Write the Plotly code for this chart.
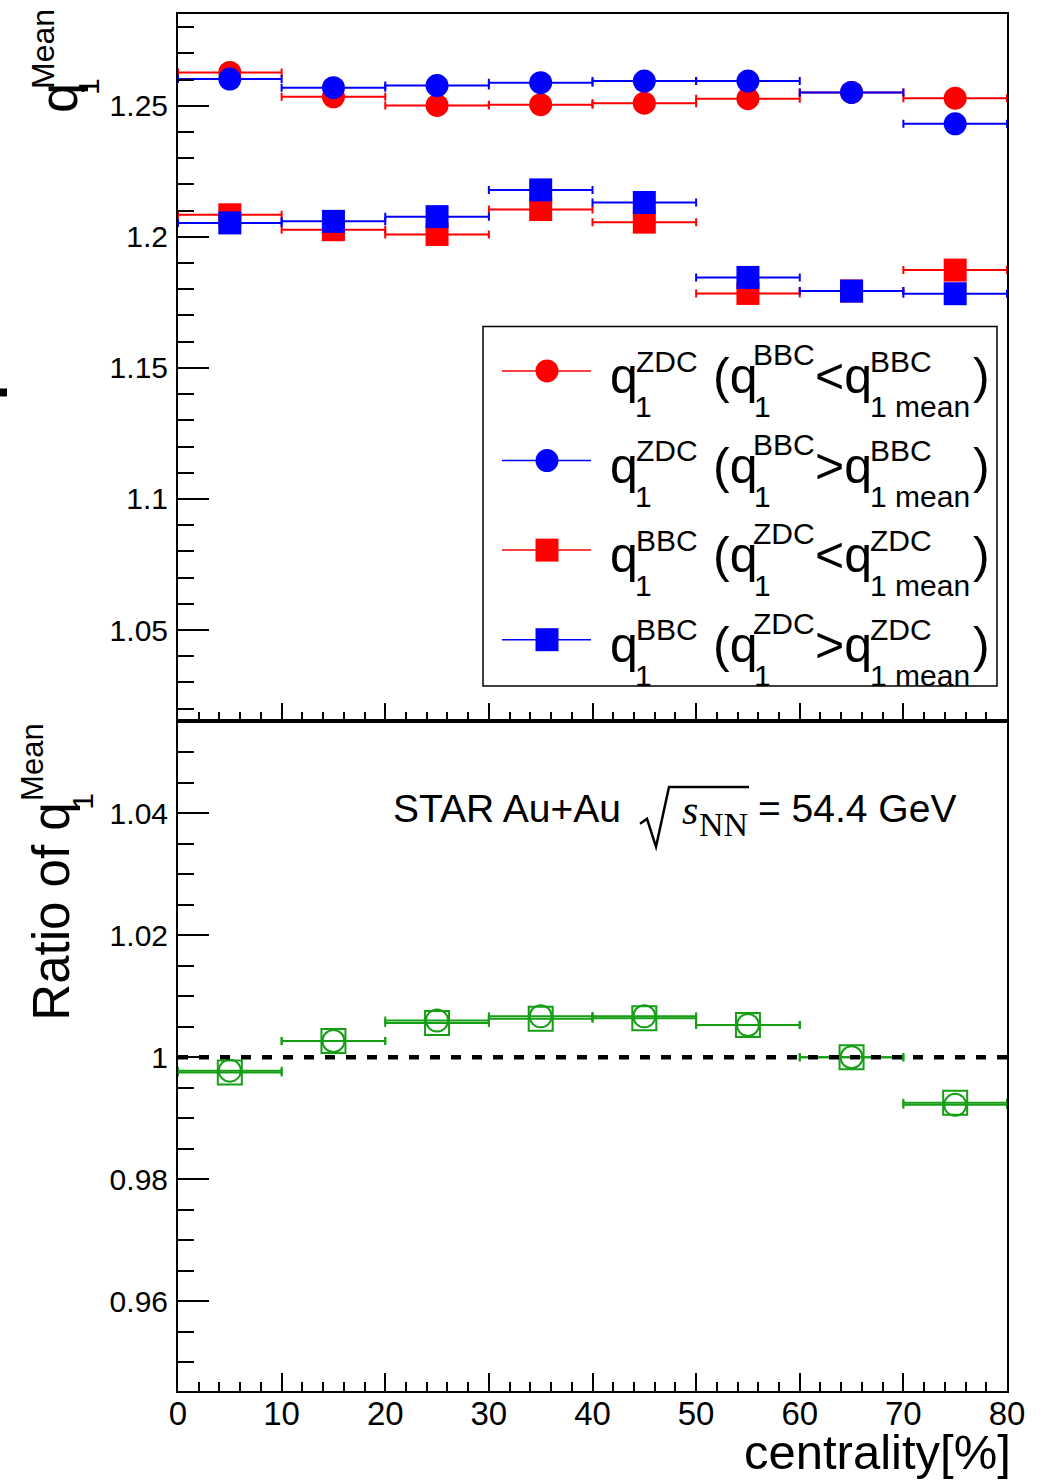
import plotly.graph_objects as go

# ---------------- data ----------------
centrality = [5, 15, 25, 35, 45, 55, 65, 75]
bin_half_width = [5, 5, 5, 5, 5, 5, 5, 5]

q1zdc_bbc_low = [1.2627, 1.2534, 1.2501, 1.2504, 1.2510, 1.2527, 1.2551, 1.2529]
q1zdc_bbc_high = [1.2602, 1.2569, 1.2577, 1.2588, 1.2594, 1.2594, 1.2551, 1.2431]
q1bbc_zdc_low = [1.2084, 1.2027, 1.2009, 1.2104, 1.2056, 1.1784, 1.1793, 1.1873]
q1bbc_zdc_high = [1.2053, 1.2059, 1.2077, 1.2179, 1.2131, 1.1845, 1.1793, 1.1783]

ratio_zdc = [0.9978, 1.00265, 1.0060, 1.0067, 1.0067, 1.00527, 1.0000, 0.99219]
ratio_bbc = [0.9975, 1.00265, 1.0056, 1.0063, 1.0064, 1.00527, 1.0000, 0.99252]

unity_x = [0, 80]
unity_y = [1, 1]

top_tickvals = [1.05, 1.1, 1.15, 1.2, 1.25]
top_ticktext = ["1.05", "1.1", "1.15", "1.2", "1.25"]
bot_tickvals = [0.96, 0.98, 1.0, 1.02, 1.04]
bot_ticktext = ["0.96", "0.98", "1", "1.02", "1.04"]
x_tickvals = [0, 10, 20, 30, 40, 50, 60, 70, 80]
x_ticktext = ["0", "10", "20", "30", "40", "50", "60", "70", "80"]

legend_rows = [
    # (colour, symbol, sup1, sup2, relation, sup3)
    ("red", "circle", "ZDC", "BBC", "<", "BBC"),
    ("blue", "circle", "ZDC", "BBC", ">", "BBC"),
    ("red", "square", "BBC", "ZDC", "<", "ZDC"),
    ("blue", "square", "BBC", "ZDC", ">", "ZDC"),
]

# ---------------- geometry helpers (pixel -> paper) ----------------
W, H = 1040, 1480
L, R, T, B = 178, 1007, 12, 1391
PW, PH = R - L, B - T
MID = 720
split = (B - MID) / PH

def px(x):
    return (x - L) / PW

def py(y):
    return (B - y) / PH

SANS = "Liberation Sans, Arial, Helvetica, sans-serif"
SERIF = "Liberation Serif, Times New Roman, serif"
RED = "#ff0000"
BLUE = "#0000ff"
GREEN = "#149f14"
COL = {"red": RED, "blue": BLUE}

fig = go.Figure()

def err(arr):
    return dict(type="data", array=arr, symmetric=True, thickness=2, width=4)

# top panel
for yv, col, sym in [(q1zdc_bbc_low, RED, "circle"), (q1zdc_bbc_high, BLUE, "circle"),
                     (q1bbc_zdc_low, RED, "square"), (q1bbc_zdc_high, BLUE, "square")]:
    fig.add_trace(go.Scatter(
        x=centrality, y=yv, mode="markers", xaxis="x", yaxis="y",
        marker=dict(symbol=sym, size=23, color=col, line=dict(width=0)),
        error_x=dict(err(bin_half_width), color=col),
        showlegend=False, hoverinfo="skip"))

# bottom panel
fig.add_trace(go.Scatter(
    x=centrality, y=ratio_bbc, mode="markers", xaxis="x2", yaxis="y2",
    marker=dict(symbol="square-open", size=24, color=GREEN, line=dict(width=2, color=GREEN)),
    error_x=dict(err(bin_half_width), color=GREEN), showlegend=False, hoverinfo="skip"))
fig.add_trace(go.Scatter(
    x=centrality, y=ratio_zdc, mode="markers", xaxis="x2", yaxis="y2",
    marker=dict(symbol="circle-open", size=22, color=GREEN, line=dict(width=2, color=GREEN)),
    error_x=dict(err(bin_half_width), color=GREEN), showlegend=False, hoverinfo="skip"))
fig.add_trace(go.Scatter(
    x=unity_x, y=unity_y, mode="lines", xaxis="x2", yaxis="y2",
    line=dict(color="black", width=4.5, dash="10px,11px"), showlegend=False, hoverinfo="skip"))

axis_common = dict(showline=True, linewidth=2, linecolor="black", mirror=True,
                   showgrid=False, zeroline=False, ticks="inside", tickcolor="black",
                   tickwidth=2)

fig.update_layout(
    width=W, height=H, paper_bgcolor="white", plot_bgcolor="white",
    margin=dict(l=L, r=W - R, t=T, b=H - B, pad=0),
    font=dict(family=SANS, color="black"),
    xaxis=dict(axis_common, domain=[0, 1], anchor="y", range=[0, 80],
               tickvals=x_tickvals, showticklabels=False, ticklen=18,
               minor=dict(tickmode="linear", tick0=0, dtick=2, ticks="inside", ticklen=9,
                          tickwidth=2, tickcolor="black", showgrid=False)),
    yaxis=dict(axis_common, domain=[split, 1], anchor="x", range=[1.0153, 1.285],
               tickvals=top_tickvals, ticktext=top_ticktext, ticklen=31,
               tickfont=dict(size=30), ticklabelstandoff=2,
               minor=dict(tickmode="linear", tick0=1.0, dtick=0.01, ticks="inside", ticklen=16,
                          tickwidth=2, tickcolor="black", showgrid=False)),
    xaxis2=dict(axis_common, domain=[0, 1], anchor="y2", range=[0, 80],
                tickvals=x_tickvals, ticktext=x_ticktext, ticklen=18,
                tickfont=dict(size=33), ticklabelstandoff=-8,
                minor=dict(tickmode="linear", tick0=0, dtick=2, ticks="inside", ticklen=9,
                           tickwidth=2, tickcolor="black", showgrid=False)),
    yaxis2=dict(axis_common, domain=[0, split], anchor="x2", range=[0.9453, 1.0551],
                tickvals=bot_tickvals, ticktext=bot_ticktext, ticklen=31,
                tickfont=dict(size=30), ticklabelstandoff=2,
                minor=dict(tickmode="linear", tick0=0.9, dtick=0.005, ticks="inside", ticklen=16,
                           tickwidth=2, tickcolor="black", showgrid=False)),
)

shapes = []
annotations = []

def ann(text, x, y, size, xanchor="left", yanchor="middle", angle=0, family=SANS):
    annotations.append(dict(text=text, x=px(x), y=py(y), xref="paper", yref="paper",
                            xanchor=xanchor, yanchor=yanchor, showarrow=False,
                            textangle=angle, borderpad=0,
                            font=dict(size=size, family=family, color="black")))

# ---------------- legend (drawn) ----------------
shapes.append(dict(type="rect", xref="paper", yref="paper", x0=px(483), x1=px(997),
                   y0=py(685), y1=py(325), line=dict(color="black", width=1.5),
                   fillcolor="white", layer="above"))
row_y = [369.5, 459.2, 548.9, 638.6]
MF, SF = 50, 30
for (colname, sym, s1, s2, rel, s3), yc in zip(legend_rows, row_y):
    c = COL[colname]
    shapes.append(dict(type="line", xref="paper", yref="paper", x0=px(502), x1=px(591),
                       y0=py(yc), y1=py(yc), line=dict(color=c, width=1.5), layer="above"))
    r = 11.5
    shapes.append(dict(type="circle" if sym == "circle" else "rect", xref="paper", yref="paper",
                       x0=px(547 - r), x1=px(547 + r), y0=py(yc + r), y1=py(yc - r),
                       line=dict(width=0), fillcolor=c, layer="above"))
    main_c = yc + 22.6 - 0.347 * MF
    sup_c = yc + 0.7 - 0.347 * SF
    sup2_c = yc - 6 - 0.347 * SF
    sub_c = yc + 46 - 0.347 * SF
    ann("q", 609, main_c, MF)
    ann(s1, 635, sup_c, SF)
    ann("1", 634, sub_c, SF)
    ann("(q", 712, main_c, MF)
    ann(s2, 752, sup2_c, SF)
    ann("1", 753, sub_c, SF)
    ann(rel + "q", 814, main_c, MF)
    ann(s3, 869, sup_c, SF)
    ann("1 mean", 869, sub_c, SF)
    ann(")", 972, main_c, MF)

# ---------------- axis titles ----------------
# top y title: q_1^Mean (rotated)
ann("q", 58, 96, 54, xanchor="center", angle=-90)
ann("1", 89, 85, 30, xanchor="center", angle=-90)
ann("Mean", 43, 47, 32, xanchor="center", angle=-90)
# bottom y title: Ratio of q_1^Mean
ann("Ratio of q", 52, 911, 51, xanchor="center", angle=-90)
ann("Mean", 33, 761, 31, xanchor="center", angle=-90)
ann("1", 83, 801, 30, xanchor="center", angle=-90)
# x title
ann("centrality[%]", 1012, 1469.5 - 0.347 * 49, 49, xanchor="right")

# ---------------- STAR label ----------------
ann("STAR Au+Au", 392, 821 - 0.347 * 39, 39)
ann("<i>s</i>", 681, 823 - 0.34 * 42, 42, family=SERIF)
ann("NN", 698, 835 - 0.34 * 34, 34, family=SERIF)
ann("= 54.4 GeV", 757, 821 - 0.347 * 39, 39)
path_pts = [(640, 823), (647, 818), (656, 846), (669, 786), (749, 786)]
path = "M " + " L ".join(f"{px(x):.5f},{py(y):.5f}" for x, y in path_pts)
shapes.append(dict(type="path", xref="paper", yref="paper", path=path,
                   line=dict(color="black", width=2.5), layer="above"))

# small stray mark at left edge
shapes.append(dict(type="rect", xref="paper", yref="paper", x0=px(0), x1=px(7),
                   y0=py(395), y1=py(387), line=dict(width=0), fillcolor="black", layer="above"))

fig.update_layout(shapes=shapes, annotations=annotations)
fig.write_html("out.html")
